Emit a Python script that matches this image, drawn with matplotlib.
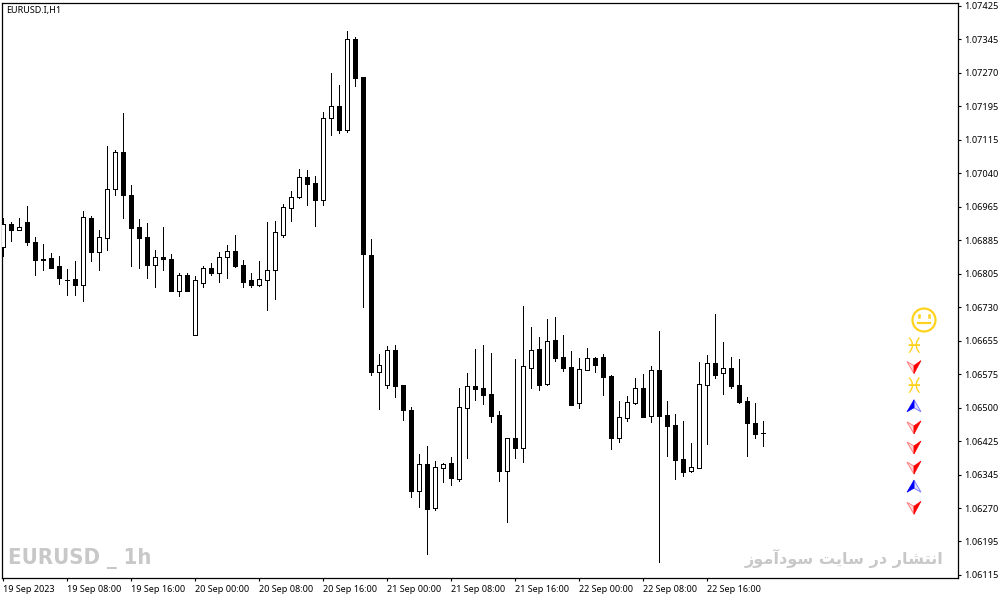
import numpy as np
import matplotlib
matplotlib.use("Agg")
import matplotlib.pyplot as plt
from matplotlib.patches import Circle, Polygon

# EURUSD.I H1 candles, prices in points (1e-5)
opens = np.array([106870, 106923, 106910, 106928, 106882, 106842, 106845, 106826, 106794, 106796,
                  106783, 106937, 106859, 106891, 107003, 107089, 106990, 106915, 106893, 106829,
                  106846, 106842, 106769, 106806, 106668, 106788, 106822, 106811, 106848, 106861,
                  106829, 106794, 106783, 106793, 106816, 106898, 106961, 106986, 107031, 107018,
                  106979, 107166, 107195, 107140, 107349, 107262, 106852, 106583, 106553, 106633,
                  106552, 106495, 106309, 106371, 106270, 106362, 106373, 106336, 106500, 106550,
                  106546, 106532, 106483, 106354, 106430, 106408, 106592, 106635, 106555, 106656,
                  106617, 106594, 106512, 106588, 106615, 106617, 106573, 106431, 106477, 106512,
                  106546, 106482, 106587, 106483, 106460, 106382, 106354, 106362, 106553, 106603,
                  106581, 106592, 106552, 106516, 106465, 106442]) / 1e5
highs = np.array([106937, 106928, 106937, 106965, 106892, 106877, 106856, 106849, 106820, 106838,
                  106953, 106941, 106909, 107103, 107093, 107179, 107013, 106935, 106925, 106863,
                  106916, 106854, 106810, 106810, 106803, 106826, 106833, 106859, 106875, 106898,
                  106840, 106810, 106838, 106928, 106930, 106969, 106999, 107050, 107047, 107034,
                  107181, 107271, 107243, 107367, 107354, 107262, 106889, 106624, 106642, 106645,
                  106552, 106502, 106394, 106412, 106377, 106373, 106387, 106546, 106580, 106635,
                  106645, 106626, 106493, 106430, 106612, 106734, 106686, 106663, 106704, 106709,
                  106668, 106631, 106615, 106638, 106617, 106624, 106575, 106516, 106527, 106569,
                  106578, 106596, 106677, 106516, 106486, 106470, 106419, 106605, 106622, 106716,
                  106651, 106617, 106612, 106525, 106511, 106470]) / 1e5
lows = np.array([106849, 106885, 106909, 106875, 106806, 106817, 106822, 106785, 106760, 106760,
                 106746, 106838, 106817, 106863, 106990, 106937, 106826, 106822, 106799, 106778,
                 106817, 106769, 106757, 106769, 106668, 106779, 106806, 106790, 106799, 106824,
                 106779, 106778, 106780, 106725, 106750, 106893, 106930, 106983, 106967, 106919,
                 106967, 107128, 107133, 107135, 107241, 106732, 106575, 106497, 106546, 106525,
                 106472, 106295, 106272, 106163, 106265, 106329, 106322, 106331, 106384, 106518,
                 106509, 106467, 106331, 106237, 106384, 106375, 106546, 106541, 106552, 106608,
                 106585, 106506, 106499, 106587, 106582, 106529, 106405, 106421, 106470, 106509,
                 106479, 106467, 106145, 106389, 106336, 106343, 106352, 106362, 106417, 106569,
                 106532, 106546, 106511, 106389, 106430, 106412]) / 1e5
closes = np.array([106923, 106909, 106915, 106882, 106839, 106839, 106822, 106799, 106793, 106783,
                   106938, 106859, 106892, 107003, 107088, 106990, 106914, 106891, 106829, 106846,
                   106842, 106769, 106805, 106769, 106793, 106821, 106810, 106846, 106860, 106826,
                   106790, 106783, 106796, 106817, 106904, 106962, 106985, 107031, 107015, 106978,
                   107166, 107194, 107140, 107348, 107259, 106854, 106582, 106598, 106632, 106550,
                   106495, 106308, 106370, 106267, 106363, 106370, 106338, 106501, 106549, 106543,
                   106529, 106481, 106354, 106430, 106407, 106595, 106632, 106552, 106653, 106615,
                   106592, 106506, 106589, 106614, 106599, 106571, 106430, 106478, 106513, 106545,
                   106479, 106586, 106481, 106458, 106380, 106352, 106363, 106554, 106602, 106575,
                   106591, 106550, 106513, 106465, 106440, 106441]) / 1e5

price_labels = ["1.06115", "1.06195", "1.06270", "1.06345", "1.06425", "1.06500",
                "1.06575", "1.06655", "1.06730", "1.06805", "1.06885", "1.06965",
                "1.07040", "1.07115", "1.07195", "1.07270", "1.07345", "1.07425"]
time_labels = ["19 Sep 2023", "19 Sep 08:00", "19 Sep 16:00", "20 Sep 00:00",
               "20 Sep 08:00", "20 Sep 16:00", "21 Sep 00:00", "21 Sep 08:00",
               "21 Sep 16:00", "22 Sep 00:00", "22 Sep 08:00", "22 Sep 16:00"]
signals = ["pisces", "down", "pisces", "up", "down", "down", "down", "up", "down"]

W, H = 1004, 599
plt.rcParams["font.family"] = ["Noto Sans", "DejaVu Sans"]
fig = plt.figure(figsize=(W / 100, H / 100), dpi=100, facecolor="white")
ax = fig.add_axes([2.5 / W, 1 - 578 / H, 956 / W, 575.5 / H])

bars = np.arange(len(opens))
up = closes > opens
body_low = np.minimum(opens, closes)
body_h = np.abs(closes - opens)

ax.vlines(bars, lows, highs, color="black", lw=0.72, antialiased=False, zorder=2)
# white candles sit over the wick, black ones too
ax.bar(bars[up], body_h[up], 0.5, bottom=body_low[up], facecolor="white",
       edgecolor="black", lw=0.72, antialiased=False, zorder=3)
ax.bar(bars[~up], body_h[~up], 0.5, bottom=body_low[~up], facecolor="black",
       edgecolor="black", lw=0.72, antialiased=False, zorder=3)

ax.set_xlim(-0.1, 119.4)
ax.set_ylim(1.06108, 1.07433)
ax.yaxis.tick_right()
ax.set_yticks(np.linspace(1.06115, 1.07425, len(price_labels)))
ax.set_yticklabels(price_labels, fontsize=6.6, va="center_baseline")
ax.set_xticks(np.arange(len(time_labels)) * 8)
ax.set_xticklabels(time_labels, fontsize=6.5, ha="left")
ax.tick_params(axis="both", length=2.5, width=0.8, pad=1.5, color="black")
ax.tick_params(axis="x", pad=2.2)
for sp in ax.spines.values():
    sp.set_linewidth(0.9)

# overlay in pixels for the label, watermarks and signal icons
ov = fig.add_axes([0, 0, 1, 1], facecolor="none")
ov.set_xlim(0, W)
ov.set_ylim(H, 0)
ov.axis("off")

ov.text(6.5, 10, "EURUSD.I,H1", fontsize=6.5, va="center", ha="left")
ov.text(8, 558.5, "EURUSD _ 1h", fontsize=15.8, fontweight="bold", stretch="condensed",
        color="#c8c8c8", va="center", ha="left", family="DejaVu Sans")
persian = "\uFE8D\uFEE7\uFE98\uFEB8\uFE8E\uFEAD \uFEA9\uFEAD \uFEB3\uFE8E\uFEF3\uFE96 \uFEB3\uFEEE\uFEA9\uFE81\uFEE3\uFEEE\uFEAF"
ov.text(943, 558, persian[::-1], fontsize=11.6, fontweight="bold", color="#c8c8c8",
        va="center", ha="right", family="DejaVu Sans")

gold = "#ffd21f"
ov.add_patch(Circle((924, 320), 11.5, facecolor="none", edgecolor=gold, lw=1.6))
ov.plot([919.3, 919.3], [315, 317], color=gold, lw=1.8)
ov.plot([928.7, 928.7], [315, 317], color=gold, lw=1.8)
ov.plot([918, 930], [322.5, 322.5], color=gold, lw=1.6)

for i, kind in enumerate(signals):
    cy = 346.5 + 20.1 * i
    cx = 914
    if kind == "pisces":
        ov.text(cx, cy + 1, "\u2653", fontsize=15, color=gold, ha="center", va="center",
                family="DejaVu Sans")
    elif kind == "down":
        ov.add_patch(Polygon([(cx - 7, cy - 5), (cx, cy - 1), (cx, cy + 7)], closed=True,
                             facecolor="#ffd8d8", edgecolor="#ff8080", lw=0.7))
        ov.add_patch(Polygon([(cx + 7, cy - 6), (cx, cy - 1), (cx, cy + 7)], closed=True,
                             facecolor="red", edgecolor="red", lw=0.5))
    else:
        ov.add_patch(Polygon([(cx + 7, cy + 5), (cx, cy + 1), (cx, cy - 7)], closed=True,
                             facecolor="#e0e0ff", edgecolor="#8080ff", lw=0.7))
        ov.add_patch(Polygon([(cx - 7, cy + 5), (cx, cy + 1), (cx, cy - 7)], closed=True,
                             facecolor="blue", edgecolor="blue", lw=0.5))

fig.savefig("out.png", dpi=100)
